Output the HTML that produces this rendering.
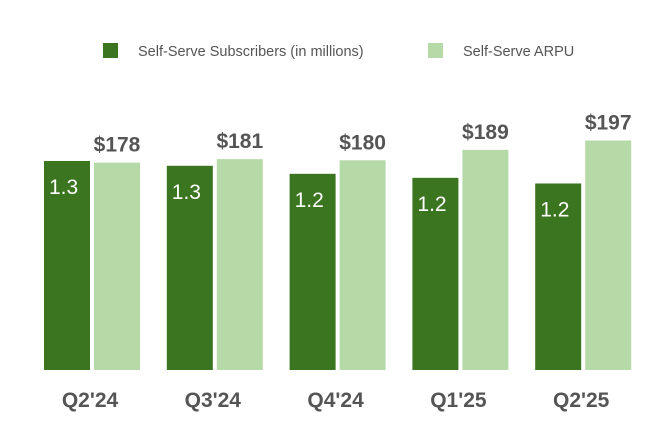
<!DOCTYPE html>
<html><head><meta charset="utf-8"><style>
body{margin:0;background:#fff;font-family:"Liberation Sans",sans-serif}
</style></head><body>
<svg width="672" height="440" id="c" xmlns="http://www.w3.org/2000/svg">
<g>
<rect x="103" y="43" width="15" height="15" fill="#3b7520"/>
<text x="138" y="56" font-size="14.5" fill="#555">Self-Serve Subscribers (in millions)</text>
<rect x="428" y="43" width="15" height="15" fill="#b6d9a8"/>
<text x="463" y="56" font-size="14.5" fill="#555">Self-Serve ARPU</text>
</g>
</svg>
<script>
const categories=["Q2'24","Q3'24","Q4'24","Q1'25","Q2'25"];
const subscribers=[1.30,1.27,1.22,1.195,1.16];
const subscriberLabels=["1.3","1.3","1.2","1.2","1.2"];
const arpu=[178,181,180,189,197];
const arpuLabels=["$178","$181","$180","$189","$197"];
const svg=document.getElementById('c');
const NS='http://www.w3.org/2000/svg';
const base=370;
const ySub=v=>base-v*160.8;
const yArpu=v=>base-(v-0)*1.165;
const gx=i=>44+i*122.8;
function mk(t,a){const e=document.createElementNS(NS,t);for(const k in a)e.setAttribute(k,a[k]);svg.appendChild(e);return e;}
categories.forEach((c,i)=>{
  const x=gx(i);
  const t1=ySub(subscribers[i]);
  const r1=mk('rect',{x:x,y:t1,width:46,height:base-t1,fill:'#3b7520'});
  
  
  const l1=mk('text',{x:x+5,y:t1+33,'font-size':21,fill:'#fff'});
  l1.textContent=subscriberLabels[i];
  
  
  const t2=yArpu(arpu[i]);
  const r2=mk('rect',{x:x+50,y:t2,width:46,height:base-t2,fill:'#b6d9a8'});
  
  
  const l2=mk('text',{x:x+73,y:t2-11,'font-size':21,'font-weight':'bold',fill:'#555','text-anchor':'middle'});
  l2.textContent=arpuLabels[i];
  
  
  const cl=mk('text',{x:x+46,y:407,'font-size':21,'font-weight':'bold',fill:'#555','text-anchor':'middle'});
  cl.textContent=c;
  
  
});
</script>
</body></html>
